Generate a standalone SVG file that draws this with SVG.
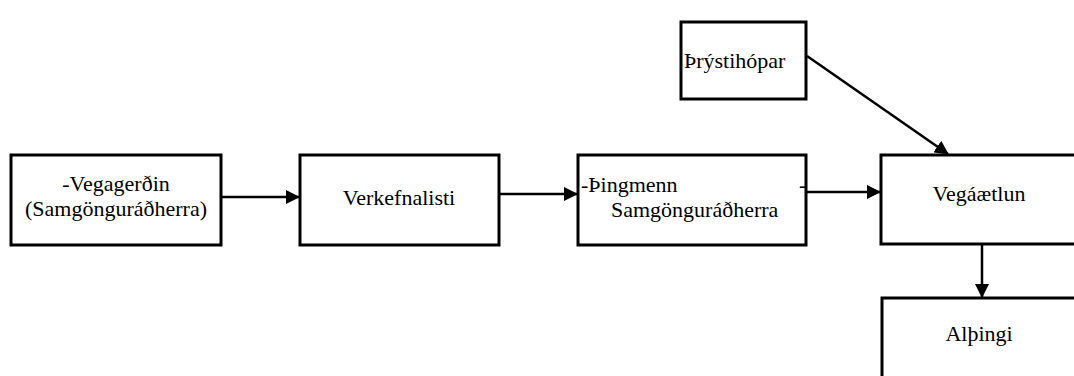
<svg xmlns="http://www.w3.org/2000/svg" width="1074" height="376" viewBox="0 0 1074 376">
<style>
.box{fill:#fff;stroke:#000;stroke-width:3}
.c{text-anchor:middle}
.ln{stroke:#000;stroke-width:2.5;fill:none}
</style>
<defs>
<marker id="ah" markerWidth="14" markerHeight="14" refX="13" refY="7" orient="auto" markerUnits="userSpaceOnUse">
<path d="M0,0 L14,7 L0,14 Z" fill="#000"/>
</marker>
</defs>
<rect width="1074" height="376" fill="#fff"/>
<g font-family="Liberation Serif, Times New Roman, serif" font-size="22" fill="#000">
<g id="n1"><rect class="box" x="11" y="155" width="210" height="90"/>
<text class="c" x="116" y="191">-Vegagerðin</text>
<text class="c" x="116" y="216">(Samgönguráðherra)</text></g>
<g id="n2"><rect class="box" x="300" y="155" width="199" height="90"/>
<text class="c" x="399" y="205">Verkefnalisti</text></g>
<g id="n3"><rect class="box" x="578" y="155" width="228" height="90"/>
<text x="581" y="192">-Þingmenn</text>
<text x="799" y="192">-</text>
<text x="611" y="217">Samgönguráðherra</text></g>
<g id="n4"><rect class="box" x="681" y="22" width="125" height="77"/>
<text x="684" y="68">Þrýstihópar</text></g>
<g id="n5"><rect class="box" x="881" y="155" width="200" height="89"/>
<text class="c" x="979" y="201">Vegáætlun</text></g>
<g id="n6"><rect class="box" x="882" y="298" width="200" height="90"/>
<text class="c" x="979" y="341">Alþingi</text></g>
</g>
<g id="edges">
<line class="ln" x1="221" y1="197" x2="299" y2="197" marker-end="url(#ah)"/>
<line class="ln" x1="499" y1="194" x2="577" y2="194" marker-end="url(#ah)"/>
<line class="ln" x1="806" y1="192" x2="880" y2="192" marker-end="url(#ah)"/>
<line class="ln" x1="807" y1="56" x2="948" y2="154" marker-end="url(#ah)"/>
<line class="ln" x1="982" y1="244" x2="982" y2="297" marker-end="url(#ah)"/>
</g>
</svg>
